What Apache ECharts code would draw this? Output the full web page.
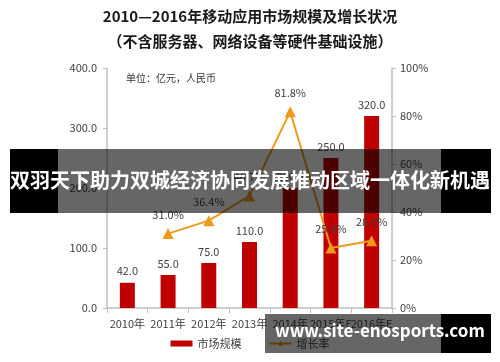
<!DOCTYPE html>
<html>
<head>
<meta charset="utf-8">
<script src="https://cdn.jsdelivr.net/npm/echarts@6/dist/echarts.min.js"></script>
<style>html,body{margin:0;padding:0;background:#fff}#c{width:500px;height:362px}</style>
</head>
<body>
<div id="c"></div>
<script>
var categories = ['2010年','2011年','2012年','2013年','2014年','2015年E','2016年E'];
var marketSize = [42.0, 55.0, 75.0, 110.0, 200.0, 250.0, 320.0];
var growthRate = [null, 31.0, 36.4, 46.7, 81.8, 25.0, 28.0];
var leftTicks = [0, 100, 200, 300, 400];
var rightTicks = [0, 20, 40, 60, 80, 100];
var titleText = '2010—2016年移动应用市场规模及增长状况';
var subtitleText = '（不含服务器、网络设备等硬件基础设施）';
var unitText = '单位：亿元，人民币';
var bannerText = '双羽天下助力双城经济协同发展推动区域一体化新机遇';
var watermarkText = 'www.site-enosports.com';

var FONT = '"Noto Sans CJK SC", "Noto Sans", sans-serif';
var chart = echarts.init(document.getElementById('c'), null, {renderer: 'canvas'});
var axisGray = '#bfbfbf';
var txt = '#404040';
chart.setOption({
  animation: false,
  textStyle: {fontFamily: FONT},
  title: [
    {text: titleText, left: 'center', top: 4, textStyle: {fontSize: 15, fontWeight: 'bold', color: '#1a1a1a', fontFamily: FONT}},
    {text: subtitleText, left: 'center', top: 29, textStyle: {fontSize: 15, fontWeight: 'bold', color: '#1a1a1a', fontFamily: FONT}},
    {text: unitText, left: 121, top: 68, textStyle: {fontSize: 10, fontWeight: 'normal', color: '#333', fontFamily: FONT}}
  ],
  grid: {left: 107, right: 108, top: 68, bottom: 54},
  legend: {
    bottom: 8, left: 'center', itemGap: 27, itemWidth: 22, itemHeight: 6,
    textStyle: {fontSize: 11, color: txt, fontFamily: FONT},
    data: [{name: '市场规模', icon: 'rect'}, {name: '增长率'}]
  },
  xAxis: {
    type: 'category', data: categories,
    axisLine: {lineStyle: {color: axisGray, width: 1.5}},
    axisTick: {show: true, length: 5, lineStyle: {color: axisGray}},
    axisLabel: {color: txt, fontSize: 11, margin: 10, interval: 0, fontFamily: FONT}
  },
  yAxis: [
    {type: 'value', min: 0, max: 400, interval: 100,
     axisLine: {show: true, lineStyle: {color: axisGray, width: 1.5}},
     axisTick: {show: true, length: 4, lineStyle: {color: axisGray}},
     splitLine: {show: false},
     axisLabel: {color: txt, fontSize: 11, margin: 10, formatter: function(v){return v.toFixed(1);}, fontFamily: FONT}},
    {type: 'value', min: 0, max: 100, interval: 20,
     axisLine: {show: true, lineStyle: {color: axisGray, width: 1.5}},
     axisTick: {show: true, length: 4, lineStyle: {color: axisGray}},
     splitLine: {show: false},
     axisLabel: {color: txt, fontSize: 11, margin: 8, formatter: '{value}%', fontFamily: FONT}}
  ],
  series: [
    {name: '市场规模', type: 'bar', data: marketSize, barWidth: 15,
     itemStyle: {color: '#c00000'},
     label: {show: true, position: 'top', distance: 6, color: txt, fontSize: 11,
             formatter: function(p){return p.value.toFixed(1);}, fontFamily: FONT}},
    {name: '增长率', type: 'line', yAxisIndex: 1, data: growthRate,
     symbol: 'triangle', symbolSize: 11, connectNulls: false,
     lineStyle: {color: '#f09a1c', width: 2},
     itemStyle: {color: '#f09a1c'},
     label: {show: true, position: 'top', distance: 8, color: txt, fontSize: 11,
             formatter: function(p){return p.value.toFixed(1) + '%';}, fontFamily: FONT}}
  ],
  graphic: [
    {type: 'rect', z: 100, shape: {x: 10, y: 149, width: 48, height: 64}, style: {fill: '#000'}},
    {type: 'rect', z: 100, shape: {x: 58, y: 149, width: 383, height: 64}, style: {fill: 'rgba(0,0,0,0.6)'}},
    {type: 'rect', z: 100, shape: {x: 441, y: 149, width: 50, height: 64}, style: {fill: '#000'}},
    {type: 'text', z: 101, left: 'center', top: 170,
     style: {text: bannerText, fill: '#fff', font: 'bold 20px ' + FONT}},
    {type: 'rect', z: 100, shape: {x: 265, y: 314, width: 176, height: 39}, style: {fill: 'rgba(0,0,0,0.6)'}},
    {type: 'rect', z: 100, shape: {x: 441, y: 314, width: 50, height: 39}, style: {fill: '#000'}},
    {type: 'text', z: 101, left: 275, top: 322,
     style: {text: watermarkText, fill: '#fff', font: 'bold 17px ' + FONT}}
  ]
});
</script>
</body>
</html>
